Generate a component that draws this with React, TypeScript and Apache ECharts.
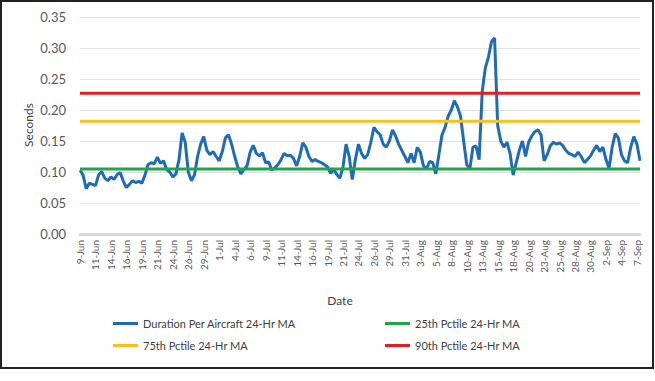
import React, { useEffect, useRef } from "react";
import * as echarts from "echarts";

// Half-day buckets from 9-Jun (AM) to 7-Sep (PM)
const START_DAY = 9; // June 9
const MONTHS = ["Jan", "Feb", "Mar", "Apr", "May", "Jun", "Jul", "Aug", "Sep", "Oct", "Nov", "Dec"];

const durationMA: number[] = [
  0.103, 0.095, 0.073, 0.082, 0.080, 0.078, 0.095, 0.101, 0.090, 0.086,
  0.092, 0.088, 0.096, 0.099, 0.085, 0.075, 0.080, 0.086, 0.083, 0.085,
  0.082, 0.095, 0.112, 0.115, 0.113, 0.124, 0.114, 0.118, 0.104, 0.100,
  0.092, 0.097, 0.120, 0.163, 0.148, 0.100, 0.086, 0.095, 0.125, 0.145,
  0.157, 0.135, 0.128, 0.133, 0.125, 0.118, 0.133, 0.155, 0.160, 0.145,
  0.125, 0.108, 0.097, 0.104, 0.110, 0.132, 0.143, 0.130, 0.126, 0.131,
  0.115, 0.116, 0.103, 0.107, 0.112, 0.120, 0.130, 0.126, 0.127, 0.122,
  0.110, 0.125, 0.147, 0.140, 0.125, 0.117, 0.120, 0.117, 0.115, 0.112,
  0.108, 0.098, 0.104, 0.096, 0.090, 0.108, 0.145, 0.125, 0.088, 0.120,
  0.145, 0.130, 0.122, 0.128, 0.148, 0.172, 0.165, 0.160, 0.145, 0.140,
  0.150, 0.168, 0.158, 0.145, 0.135, 0.125, 0.115, 0.130, 0.115, 0.140,
  0.132, 0.110, 0.105, 0.117, 0.115, 0.097, 0.128, 0.160, 0.172, 0.190,
  0.200, 0.215, 0.205, 0.190, 0.150, 0.112, 0.105, 0.140, 0.142, 0.120,
  0.230, 0.268, 0.285, 0.310, 0.316, 0.175, 0.150, 0.140, 0.148, 0.130,
  0.095, 0.115, 0.135, 0.150, 0.125, 0.148, 0.158, 0.165, 0.168, 0.160,
  0.118, 0.128, 0.142, 0.148, 0.145, 0.147, 0.143, 0.135, 0.130, 0.128,
  0.125, 0.132, 0.125, 0.115, 0.120, 0.126, 0.135, 0.143, 0.133, 0.140,
  0.120, 0.106, 0.140, 0.162, 0.155, 0.128, 0.118, 0.115, 0.140, 0.157,
  0.145, 0.118,
];

const pct25 = 0.105;
const pct75 = 0.182;
const pct90 = 0.227;

const yTicks = [0, 0.05, 0.1, 0.15, 0.2, 0.25, 0.3, 0.35];

const categories: string[] = durationMA.map((_, i) => {
  const d = new Date(2020, 5, START_DAY + Math.floor(i / 2));
  return `${d.getDate()}-${MONTHS[d.getMonth()]} ${i % 2 === 0 ? "AM" : "PM"}`;
});

const FONT = "Lato, 'Open Sans', sans-serif";

export default function App() {
  const ref = useRef<HTMLDivElement>(null);
  useEffect(() => {
    document.body.style.margin = "0";
    const chart = echarts.init(ref.current!, undefined, { renderer: "svg" });
    const last = categories.length - 1;
    chart.setOption({
      animation: false,
      backgroundColor: "#ffffff",
      textStyle: { fontFamily: FONT },
      grid: { left: 80, right: 15, top: 17, bottom: 147, containLabel: false },
      xAxis: {
        type: "category",
        data: categories,
        boundaryGap: false,
        axisLine: { show: true, lineStyle: { color: "#d9d9d9", width: 3 } },
        axisTick: { show: false },
        axisLabel: {
          interval: 4,
          rotate: 90,
          margin: 6,
          fontSize: 10,
          color: "#595959",
          fontFamily: FONT,
          formatter: (v: string) => v.split(" ")[0],
        },
        splitLine: { show: false },
      },
      yAxis: {
        type: "value",
        min: yTicks[0],
        max: yTicks[yTicks.length - 1],
        interval: 0.05,
        axisLine: { show: false },
        axisTick: { show: false },
        axisLabel: {
          margin: 14,
          fontSize: 13,
          color: "#595959",
          fontFamily: FONT,
          formatter: (v: number) => v.toFixed(2),
        },
        splitLine: { lineStyle: { color: "#e3e3e3", width: 1 } },
      },
      legend: [
        {
          orient: "vertical",
          left: 108,
          top: 312,
          itemWidth: 25,
          itemHeight: 3,
          itemGap: 9,
          icon: "rect",
          data: ["Duration Per Aircraft 24-Hr MA", "75th Pctile 24-Hr MA"],
          textStyle: { fontSize: 11, color: "#404040", fontFamily: FONT, lineHeight: 13 },
        },
        {
          orient: "vertical",
          left: 380,
          top: 312,
          itemWidth: 25,
          itemHeight: 3,
          itemGap: 9,
          icon: "rect",
          data: ["25th Pctile 24-Hr MA", "90th Pctile 24-Hr MA"],
          textStyle: { fontSize: 11, color: "#404040", fontFamily: FONT, lineHeight: 13 },
        },
      ],
      graphic: [
        {
          type: "rect",
          shape: { x: 1, y: 1, width: 652, height: 367 },
          style: { fill: "none", stroke: "#222222", lineWidth: 2 },
          silent: true,
        },
        {
          type: "text",
          x: 340,
          y: 300,
          style: { text: "Date", fontSize: 12, fill: "#404040", fontFamily: FONT, align: "center", verticalAlign: "middle" },
        },
        {
          type: "text",
          x: 28,
          y: 125,
          rotation: Math.PI / 2,
          style: { text: "Seconds", fontSize: 12, fill: "#404040", fontFamily: FONT, align: "center", verticalAlign: "middle" },
        },
      ],
      series: [
        {
          name: "Duration Per Aircraft 24-Hr MA",
          type: "line",
          data: durationMA,
          showSymbol: false,
          symbol: "none",
          lineStyle: { color: "#1F6BB5", width: 3 },
          itemStyle: { color: "#1F6BB5" },
        },
        {
          name: "25th Pctile 24-Hr MA",
          type: "line",
          data: [[0, pct25], [last, pct25]],
          symbol: "none",
          lineStyle: { color: "#23A34A", width: 3 },
          itemStyle: { color: "#23A34A" },
        },
        {
          name: "75th Pctile 24-Hr MA",
          type: "line",
          data: [[0, pct75], [last, pct75]],
          symbol: "none",
          lineStyle: { color: "#F7C21A", width: 3 },
          itemStyle: { color: "#F7C21A" },
        },
        {
          name: "90th Pctile 24-Hr MA",
          type: "line",
          data: [[0, pct90], [last, pct90]],
          symbol: "none",
          lineStyle: { color: "#E21E22", width: 3 },
          itemStyle: { color: "#E21E22" },
        },
      ],
    });
    return () => chart.dispose();
  }, []);
  return <div ref={ref} style={{ position: "fixed", left: 0, top: 0, width: 655, height: 381 }} />;
}
